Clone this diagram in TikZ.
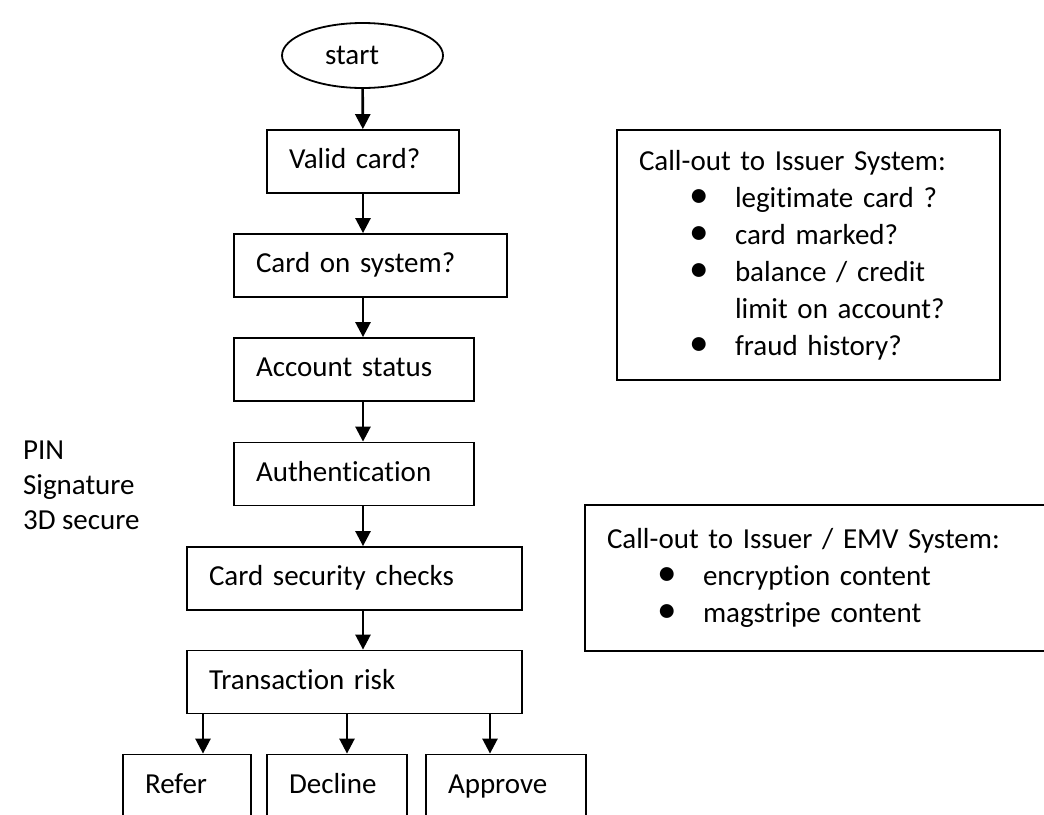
\documentclass[tikz,border=0pt]{standalone}
\usepackage{fontspec}
\setmainfont{Carlito}[Ligatures=CommonOff]
\usetikzlibrary{shapes.geometric,arrows.meta}

\newcommand{\itembul}{\hspace*{25pt}\makebox[23pt][l]{\scalebox{1.35}{\textbullet}}}
\newcommand{\itemcont}{\hspace*{48pt}}

\begin{document}
\begin{tikzpicture}[
    x=0.5pt, y=-0.5pt,
    font=\fontsize{14.5}{18.5}\selectfont,
    stepbox/.style={draw, line width=0.9pt, minimum height=31.5pt,
      inner xsep=11pt, inner ysep=0pt, text height=10.5pt, text depth=3.5pt,
      align=left},
    callout/.style={draw, line width=0.9pt, inner xsep=11pt, align=left},
    flow/.style={line width=1.3pt, -{Triangle[length=7.5pt,width=7.5pt]}}
  ]
  \useasboundingbox (0,0) rectangle (1044,814);
  \clip (0,0) rectangle (1044,814);

  % main flow
  \node (start) [ellipse, draw, line width=0.9pt, minimum width=80.5pt,
    minimum height=32.5pt, inner sep=0pt, text width=37.5pt, align=left]
    at (362.5,55.5) {start};
  \node (valid)   [stepbox, text width=74pt]    at (363,161.5) {Valid card?};
  \node (cardsys) [stepbox, text width=114.5pt] at (370.5,265.5) {Card on system?};
  \node (acct)    [stepbox, text width=98pt]    at (354,369.5) {Account status};
  \node (auth)    [stepbox, text width=98pt]    at (354,474) {Authentication};
  \node (secur)   [stepbox, text width=145.5pt] at (354.5,578.5) {Card security checks};
  \node (risk)    [stepbox, text width=145.5pt] at (354.5,682) {Transaction risk};

  % outcomes (cut off at the page foot)
  \node (refer)   [stepbox, text width=42pt] at (187,786) {Refer};
  \node (decline) [stepbox, text width=48pt] at (337,786) {Decline};
  \node (approve) [stepbox, text width=58pt] at (506,786) {Approve};

  % side notes
  \node (methods) [align=left, anchor=west] at (16,485)
    {PIN\\[-1pt]Signature\\[-1pt]3D secure};
  \node (issuer) [callout, minimum width=191.5pt, minimum height=125pt,
    text width=169.5pt] at (808.5,255)
    {Call-out to Issuer System:\\
     \itembul legitimate card ?\\
     \itembul card marked?\\
     \itembul balance / credit\\
     \itemcont limit on account?\\
     \itembul fraud history?};
  \node (emv) [callout, minimum width=239.5pt, minimum height=73pt,
    text width=217.5pt] at (824.5,578)
    {Call-out to Issuer / EMV System:\\
     \itembul encryption content\\
     \itembul magstripe content};

  % connectors
  \draw[flow] (start) -- (valid);
  \draw[flow] (valid) -- (valid |- cardsys.north);
  \draw[flow] (cardsys.south -| valid) -- (acct.north -| valid);
  \draw[flow] (acct.south -| valid) -- (auth.north -| valid);
  \draw[flow] (auth.south -| valid) -- (secur.north -| valid);
  \draw[flow] (secur.south -| valid) -- (risk.north -| valid);
  \draw[flow] ([xshift=8pt]refer.north |- risk.south) -- ([xshift=8pt]refer.north);
  \draw[flow] ([xshift=5pt]decline.north |- risk.south) -- ([xshift=5pt]decline.north);
  \draw[flow] ([xshift=-8pt]approve.north |- risk.south) -- ([xshift=-8pt]approve.north);
\end{tikzpicture}
\end{document}
